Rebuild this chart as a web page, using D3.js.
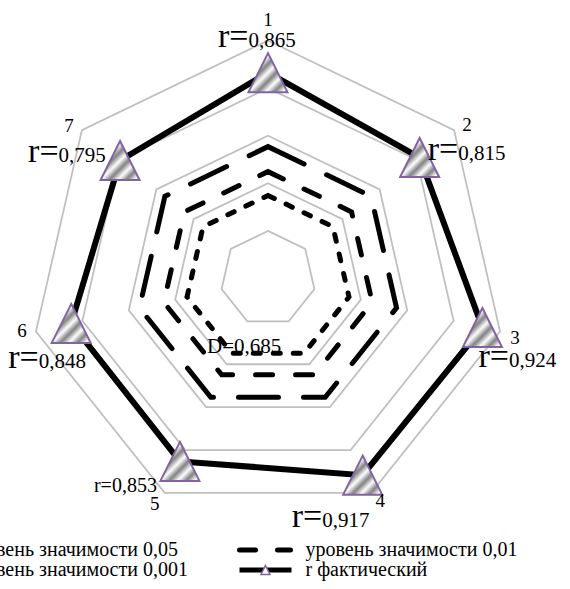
<!DOCTYPE html>
<html>
<head>
<meta charset="utf-8">
<script src="https://cdn.jsdelivr.net/npm/d3@7"></script>
<style>
  html, body { margin: 0; padding: 0; background: #fff; }
  svg { display: block; font-family: "Liberation Serif", "Times New Roman", serif; }
</style>
</head>
<body>
<svg id="chart" width="570" height="589"></svg>
<script>
// axis names and values
const axisNames = ['1', '2', '3', '4', '5', '6', '7'];
const rActual = [0.865, 0.815, 0.924, 0.917, 0.853, 0.848, 0.795];
const level005 = [0.349, 0.349, 0.349, 0.349, 0.349, 0.349, 0.349];
const level001 = [0.449, 0.449, 0.449, 0.449, 0.449, 0.449, 0.449];
const level0001 = [0.554, 0.554, 0.554, 0.554, 0.554, 0.554, 0.554];
const gridTicks = [0.2, 0.4, 0.6, 0.8, 1.0];
const legendNames = ['уровень значимости 0,05', 'уровень значимости 0,01',
  'уровень значимости 0,001', 'r фактический'];
const extraLabel = 'D=0,685';

const width = 570, height = 589;
const cx = 268, cy = 278.5, radius = 238;
const n = axisNames.length;
const fmt = v => d3.format('.3f')(v).replace('.', ',');

const svg = d3.select('#chart');
const r = d3.scaleLinear().domain([0, 1]).range([0, radius]);
const angle = i => i * 2 * Math.PI / n;               // 0 = up, clockwise
const px = (i, v) => cx + r(v) * Math.sin(angle(i));
const py = (i, v) => cy - r(v) * Math.cos(angle(i));

// hatch for markers
const defs = svg.append('defs');
const grad = defs.append('linearGradient').attr('id', 'stripeGrad');
grad.append('stop').attr('offset', '0%').attr('stop-color', '#ffffff');
grad.append('stop').attr('offset', '50%').attr('stop-color', '#808080');
grad.append('stop').attr('offset', '100%').attr('stop-color', '#ffffff');
const pat = defs.append('pattern')
  .attr('id', 'hatch')
  .attr('patternUnits', 'userSpaceOnUse')
  .attr('width', 12).attr('height', 12)
  .attr('patternTransform', 'rotate(45)');
pat.append('rect').attr('width', 12).attr('height', 12).attr('fill', 'url(#stripeGrad)');

const g = svg.append('g').attr('transform', `translate(${cx},${cy})`);

const radial = d3.lineRadial()
  .angle((d, i) => angle(i))
  .radius(d => r(d))
  .curve(d3.curveLinearClosed);

// grid heptagons
g.selectAll('.grid')
  .data(gridTicks)
  .enter().append('path')
  .attr('class', 'grid')
  .attr('d', t => radial(d3.range(n).map(() => t)))
  .attr('fill', 'none')
  .attr('stroke', '#c0c0c0')
  .attr('stroke-width', 1.8);

// significance levels
const levels = [
  { values: level005, dash: '7,13' },
  { values: level001, dash: '17,23' },
  { values: level0001, dash: '40,25' }
];
g.selectAll('.level')
  .data(levels)
  .enter().append('path')
  .attr('class', 'level')
  .attr('d', d => radial(d.values))
  .attr('fill', 'none')
  .attr('stroke', '#000')
  .attr('stroke-width', 5)
  .attr('stroke-linecap', 'round')
  .attr('stroke-dasharray', d => d.dash);

// actual r
g.append('path')
  .attr('d', radial(rActual))
  .attr('fill', 'none')
  .attr('stroke', '#000')
  .attr('stroke-width', 6)
  .attr('stroke-linejoin', 'miter');

const tri = s => `M0,${-s}L${s},${s}L${-s},${s}Z`;
svg.selectAll('.marker')
  .data(rActual)
  .enter().append('path')
  .attr('class', 'marker')
  .attr('transform', (d, i) => `translate(${px(i, d)},${py(i, d)})`)
  .attr('d', tri(19.5))
  .attr('fill', 'url(#hatch)')
  .attr('stroke', '#8064a2')
  .attr('stroke-width', 2);

// axis numbers, offset from outer vertex
const nameOffsets = [[0, -15], [13, 1], [15, 13], [9, 14], [-10, 17], [-14, 6], [-13, 2]];
svg.selectAll('.axis-name')
  .data(axisNames)
  .enter().append('text')
  .attr('class', 'axis-name')
  .attr('x', (d, i) => px(i, 1) + nameOffsets[i][0])
  .attr('y', (d, i) => py(i, 1) + nameOffsets[i][1])
  .attr('text-anchor', 'middle')
  .attr('font-size', 19)
  .text(d => d);

// value labels, offset from data point
const valueOffsets = [
  { dx: -50, dy: -26 }, { dx: 8, dy: 2.5 }, { dx: -4, dy: 40 }, { dx: -71, dy: 52 },
  { dx: -23, dy: 31, plain: true }, { dx: -63, dy: 45 }, { dx: -92, dy: 1 }
];
rActual.forEach((v, i) => {
  const o = valueOffsets[i];
  const t = svg.append('text')
    .attr('x', px(i, v) + o.dx)
    .attr('y', py(i, v) + o.dy);
  if (o.plain) {
    t.attr('text-anchor', 'end').attr('font-size', 20).text('r=' + fmt(v));
  } else {
    t.append('tspan').attr('font-size', 34).text('r=');
    t.append('tspan').attr('font-size', 21).text(fmt(v));
  }
});

svg.append('text')
  .attr('x', 207).attr('y', 353)
  .attr('font-size', 21)
  .text(extraLabel);

// legend
const legendItems = [
  { name: legendNames[0], dash: '7,13', x: -100, y: 550 },
  { name: legendNames[1], dash: '16,22', x: 239.5, y: 550 },
  { name: legendNames[2], dash: '40,25', x: -100, y: 570 },
  { name: legendNames[3], dash: null, x: 239.5, y: 570, marker: true }
];
const leg = svg.selectAll('.legend')
  .data(legendItems)
  .enter().append('g')
  .attr('class', 'legend')
  .attr('transform', d => `translate(${d.x},${d.y})`);
leg.append('line')
  .attr('x1', 0).attr('x2', d => d.marker ? 52 : 51)
  .attr('stroke', '#000')
  .attr('stroke-width', 5)
  .attr('stroke-linecap', d => d.marker ? 'butt' : 'round')
  .attr('stroke-dasharray', d => d.dash);
leg.filter(d => d.marker).append('path')
  .attr('transform', 'translate(26,0)')
  .attr('d', tri(4.5))
  .attr('fill', '#fff')
  .attr('stroke', '#8064a2')
  .attr('stroke-width', 1.5);
leg.append('text')
  .attr('x', 66)
  .attr('y', 6)
  .attr('font-size', 20)
  .text(d => d.name);
</script>
</body>
</html>
